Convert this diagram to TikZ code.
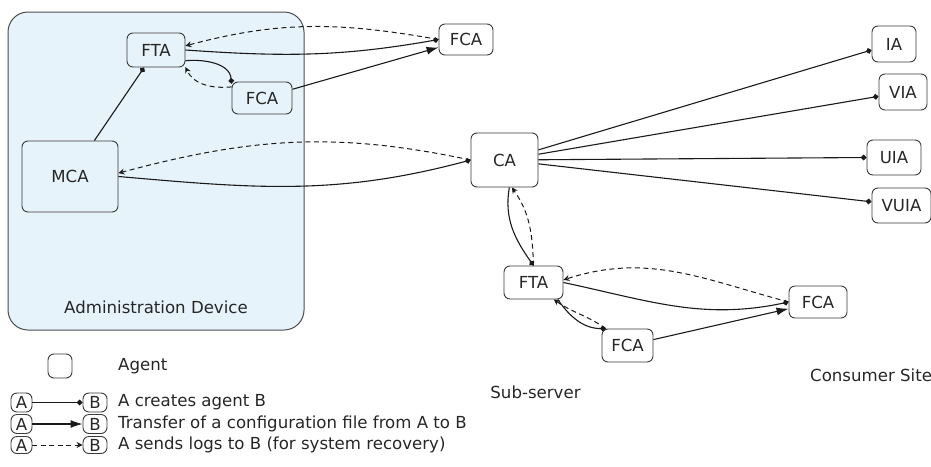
\documentclass[tikz,border=0pt]{standalone}
\usepackage{fontspec}
\setmainfont{DejaVu Sans}
\usetikzlibrary{arrows.meta}
\definecolor{admfill}{HTML}{E6F3FA}
\definecolor{edgecol}{HTML}{1A1A1A}
\definecolor{boxcol}{HTML}{3A3A3A}
\tikzset{
  agent/.style={draw=boxcol, line width=0.9pt, rounded corners=6pt, inner sep=0pt, font=\fontsize{16.6}{18}\selectfont, text=black!85},
  create/.style={draw=edgecol, line width=1.1pt, -{Turned Square[length=6pt,width=6pt]}},
  config/.style={draw=edgecol, line width=1.1pt, -{Latex[length=12pt,width=8pt]}},
  logs/.style={draw=edgecol, line width=1pt, dash pattern=on 5pt off 3.5pt, -{Stealth[length=6pt,width=6pt]}},
  lbl/.style={font=\fontsize{16.6}{18}\selectfont, text=black!85, inner sep=0pt}
}
\begin{document}
\begin{tikzpicture}[x=1pt,y=1pt]
\useasboundingbox (0,0) rectangle (931,-466);
% admin device
\node[draw=black!70, fill=admfill, line width=1pt, rounded corners=20pt, minimum width=296pt, minimum height=318pt, inner sep=0pt] (adm) at (156,-171) {};
\node[lbl] (admlbl) at (156,-307) {Administration Device};
% nodes
\node[agent, minimum width=58pt, minimum height=34pt] (FTAa) at (156,-50) {FTA};
\node[agent, minimum width=60pt, minimum height=32pt] (FCAa) at (262,-98) {FCA};
\node[agent, minimum width=96pt, minimum height=71pt] (MCA) at (70,-176.5) {MCA};
\node[agent, minimum width=54pt, minimum height=31pt] (FCAt) at (466,-39.5) {FCA};
\node[agent, minimum width=67pt, minimum height=54pt] (CA) at (504.5,-160) {CA};
\node[agent, minimum width=59pt, minimum height=33pt] (FTAs) at (533.5,-282.5) {FTA};
\node[agent, minimum width=58pt, minimum height=32pt] (FCAr) at (818,-302) {FCA};
\node[agent, minimum width=51pt, minimum height=33pt] (FCAb) at (627.5,-345.5) {FCA};
\node[agent, minimum width=44pt, minimum height=36pt] (IA) at (894,-44) {IA};
\node[agent, minimum width=48pt, minimum height=36pt] (VIA) at (903,-92) {VIA};
\node[agent, minimum width=54pt, minimum height=35pt] (UIA) at (894,-157.5) {UIA};
\node[agent, minimum width=59pt, minimum height=35pt] (VUIA) at (901.5,-205.5) {VUIA};
\node[lbl] (sub) at (535.5,-392) {Sub-server};
\node[lbl, anchor=west] (cons) at (810,-375) {Consumer Site};
% admin edges
\draw[create] (MCA) -- (FTAa);
\draw[create] (FTAa.-20) to[out=5,in=95] (FCAa.155);
\draw[logs] (FCAa.160) to[out=185,in=-65] (FTAa.-30);
\draw[create] (FTAa.east) to[out=-4,in=190] (FCAt.west);
\draw[logs] (FCAt.west) to[out=170,in=15] (FTAa.8);
\draw[config] (FCAa) -- (FCAt);
\draw[create] (MCA.east) to[out=-5,in=195] (CA.west);
\draw[logs] (CA.west) to[out=168,in=15] (MCA.4);
% CA edges
\draw[create] (CA) -- (IA.195);
\draw[create] (CA) -- (VIA.190);
\draw[create] (CA) -- (UIA.west);
\draw[create] (CA) -- (VUIA.173);
\draw[create] (CA.-80) to[out=-100,in=125] (FTAs.north);
\draw[logs] (FTAs.north) to[out=92,in=-55] (CA.-75);
% subserver edges
\draw[create] (FTAs.east) to[out=-12,in=192] (FCAr.west);
\draw[logs] (FCAr.west) to[out=165,in=18] (FTAs.5);
\draw[create] (FTAs.-35) to[out=-55,in=180] (FCAb.142);
\draw[logs] (FCAb.142) to[out=145,in=-35] (FTAs.-40);
\draw[config] (FCAb) -- (FCAr);
% legend
\node[agent, minimum width=24pt, minimum height=24pt] (lag) at (60,-366) {};
\node[lbl, anchor=west] (lagt) at (118,-366) {Agent};
\node[agent, minimum width=21pt, minimum height=19pt] (a1) at (21.5,-402.5) {A};
\node[agent, minimum width=24pt, minimum height=19pt] (b1) at (95,-402.5) {B};
\node[lbl, anchor=west] (t1) at (118,-402.5) {A creates agent B};
\node[agent, minimum width=21pt, minimum height=19pt] (a2) at (21.5,-424) {A};
\node[agent, minimum width=24pt, minimum height=19pt] (b2) at (95,-424) {B};
\node[lbl, anchor=west] (t2) at (118,-424) {Transfer of a configuration file from A to B};
\node[agent, minimum width=21pt, minimum height=17pt] (a3) at (21.5,-445) {A};
\node[agent, minimum width=24pt, minimum height=17pt] (b3) at (95,-445) {B};
\node[lbl, anchor=west] (t3) at (118,-445) {A sends logs to B (for system recovery)};
\draw[create] (a1) -- (b1);
\draw[config] (a2) -- (b2);
\draw[logs] (a3) -- (b3);
\end{tikzpicture}
\end{document}
